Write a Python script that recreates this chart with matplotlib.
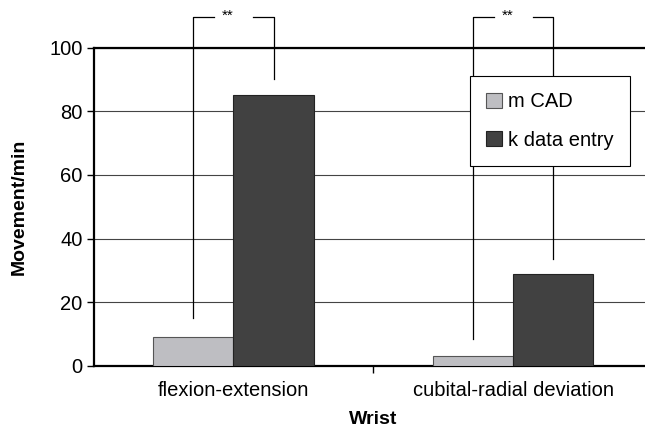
import matplotlib.pyplot as plt
import numpy as np

plt.rcParams['font.family'] = ['Liberation Sans', 'DejaVu Sans']

categories = ["flexion-extension", "cubital-radial deviation"]
m_cad = [9, 3]
k_entry = [85, 29]
# significance brackets: (left end value, right end value, top value)
brackets = [(15, 90, 109.5), (8.5, 33.5, 109.5)]

fig = plt.figure(figsize=(6.45, 4.29), dpi=100)
ax = fig.add_axes([0.145, 0.147, 0.868, 0.742])

x = np.arange(len(categories))
w = 0.286
ax.bar(x - w / 2, m_cad, w, color="#bebec2", edgecolor="#555555", linewidth=0.8, label="m CAD", zorder=3)
ax.bar(x + w / 2, k_entry, w, color="#414141", edgecolor="#222222", linewidth=0.8, label="k data entry", zorder=3)

ax.set_xlim(-0.5, 1.5)
ax.set_ylim(0, 100)
ax.set_yticks([0, 20, 40, 60, 80, 100])
ax.yaxis.grid(True, color="#444444", linewidth=0.8, zorder=0)
ax.set_xticks([0.5])
ax.set_xticklabels([""])
ax.set_xticks(x, minor=True)
ax.set_xticklabels(categories, minor=True)
ax.tick_params(axis="x", which="minor", length=0, pad=11, labelsize=14.5)
ax.tick_params(axis="x", which="major", length=5, width=1, direction="out")
ax.tick_params(axis="y", labelsize=14.5, length=5, width=1, direction="out", pad=3)

for s in ["left", "bottom", "top"]:
    ax.spines[s].set_linewidth(1.6)
ax.spines["right"].set_visible(False)

ax.set_ylabel("Movement/min", fontsize=14, fontweight="bold", labelpad=15)
ax.set_xlabel("Wrist", fontsize=14, fontweight="bold", labelpad=8)

for i, (lo, hi, top) in enumerate(brackets):
    xl = x[i] - w / 2
    xr = x[i] + w / 2
    xm = x[i]
    gap = 0.07
    kw = dict(color="black", linewidth=0.9, clip_on=False, zorder=4)
    ax.plot([xl, xl, xm - gap], [lo, top, top], **kw)
    ax.plot([xm + gap, xr, xr], [top, top, hi], **kw)
    ax.text(xm - 0.02, top + 0.5, "**", ha="center", va="center", fontsize=11)

leg = ax.legend(loc="upper left", bbox_to_anchor=(0.672, 0.91), fontsize=14.5,
                frameon=True, fancybox=False, edgecolor="black", framealpha=1,
                handlelength=0.8, handleheight=0.8, handletextpad=0.3,
                labelspacing=0.95, borderpad=0.8, borderaxespad=0)
leg.get_frame().set_linewidth(0.8)

plt.savefig("out.png", dpi=100)
